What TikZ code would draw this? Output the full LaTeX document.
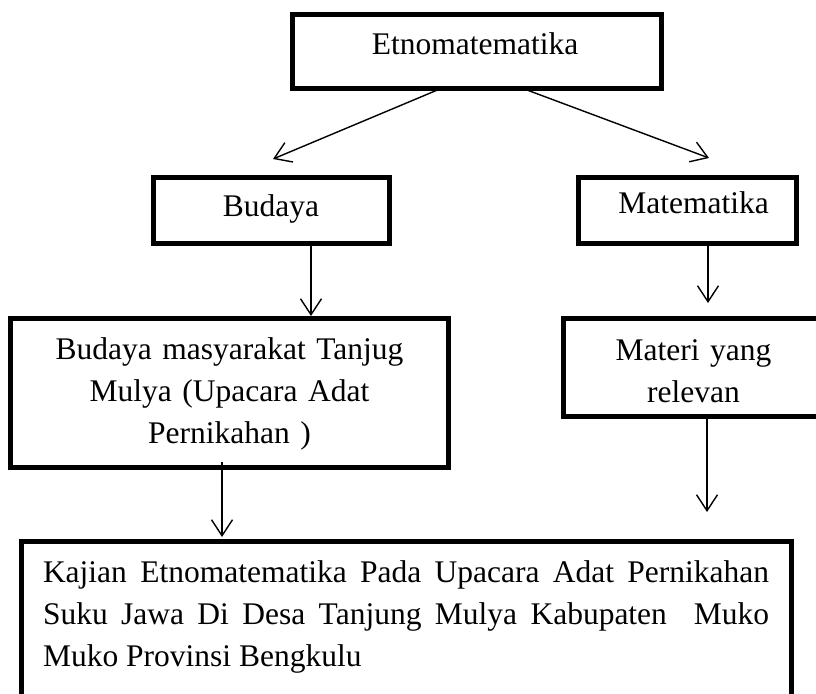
\documentclass[tikz,border=0pt]{standalone}
\usepackage{fontspec}
\setmainfont{Liberation Serif}
\usetikzlibrary{arrows.meta}
\begin{document}
\begin{tikzpicture}[x=1pt,y=-1pt,
  font=\fontsize{31.5}{42}\selectfont,
  box/.style={draw, line width=5pt, inner sep=0pt, outer sep=0pt, rectangle},
  txt/.style={inner sep=0pt, outer sep=0pt},
  arr/.style={line width=1.4pt, -{Straight Barb[length=16pt,width=21pt,line width=1.4pt]}}]
\useasboundingbox (0,0) rectangle (816,693);
\clip (0,0) rectangle (816,693);
% boxes
\node[box, minimum width=369pt, minimum height=73.5pt] (etno) at (476.5,51.75) {};
\node[box, minimum width=236pt, minimum height=66pt] (bud) at (271,210) {};
\node[box, minimum width=218pt, minimum height=66.5pt] (mat) at (687,210.25) {};
\node[box, minimum width=438pt, minimum height=149pt] (bmt) at (229,392.5) {};
\node[box, minimum width=267pt, minimum height=98pt] (mtr) at (696.5,367) {};
\node[box, minimum width=770pt, minimum height=179pt] (kaj) at (406,630.5) {};
% texts
\node[txt, anchor=base] (etnoT) at (475,55) {Etnomatematika};
\node[txt, anchor=base] (budT) at (271,216) {Budaya};
\node[txt, anchor=base] (matT) at (693.5,213) {Matematika};
\node[txt, anchor=base, text width=420pt, align=center] (bmtT) at (229.5,359)
  {Budaya masyarakat Tanjug\\ Mulya (Upacara Adat\\ Pernikahan )};
\node[txt, anchor=base, text width=240pt, align=center] (mtrT) at (693.5,360)
  {Materi yang\\ relevan};
\node[txt, anchor=base, text width=726pt, align=justify] (kajT) at (406,582)
  {\hyphenpenalty=10000 Kajian Etnomatematika Pada Upacara Adat Pernikahan\linebreak Suku Jawa Di Desa Tanjung Mulya Kabupaten\ \ Muko\linebreak Muko Provinsi Bengkulu};
% connectors
\draw[arr] ([xshift=-35.5pt]etno.south) -- ([xshift=2pt,yshift=18pt]bud.north);
\draw[arr] ([xshift=46.5pt]etno.south) -- ([xshift=22pt,yshift=19pt]mat.north);
\draw[arr] ([xshift=40pt]bud.south) -- ([xshift=40pt,yshift=2pt]bud.south |- bmt.north);
\draw[arr] ([xshift=21pt]mat.south) -- ([xshift=21pt,yshift=15pt]mat.south |- mtr.north);
\draw[arr] ([xshift=-7pt,yshift=5pt]bmt.south) -- ([xshift=-7pt,yshift=4pt]bmt.south |- kaj.north);
\draw[arr] ([xshift=10.5pt]mtr.south) -- ([xshift=10.5pt,yshift=29pt]mtr.south |- kaj.north);
\end{tikzpicture}
\end{document}
